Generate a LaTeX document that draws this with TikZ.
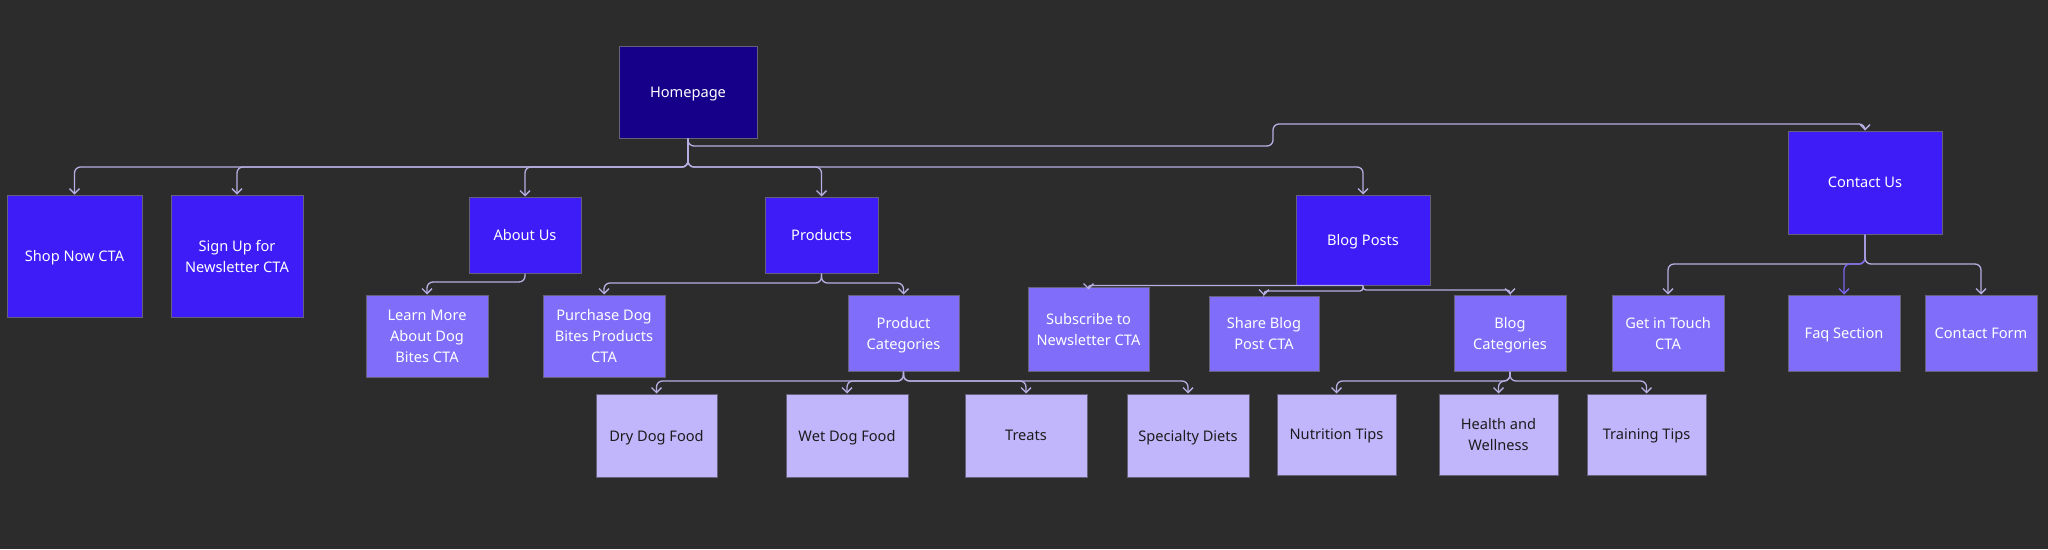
\documentclass[tikz,border=0pt]{standalone}
\usepackage{fontspec}
\setmainfont{Noto Sans}
\usetikzlibrary{arrows.meta}
\definecolor{bgc}{HTML}{2C2C2C}
\definecolor{lvzc}{HTML}{16008A}
\definecolor{lvoc}{HTML}{3D1CF7}
\definecolor{lvtc}{HTML}{806DF9}
\definecolor{lvhc}{HTML}{C1B6FC}
\definecolor{bord}{HTML}{66607A}
\definecolor{conc}{HTML}{B7AEE3}
\definecolor{conf}{HTML}{7A66F0}
\definecolor{darktext}{HTML}{1C1C1C}
\begin{document}
\begin{tikzpicture}[x=1pt,y=-1pt,
  box/.style={draw=bord, line width=1pt, inner sep=2pt, align=center,
    text depth=0pt, font=\fontsize{14.6}{21}\selectfont},
  lvzero/.style={box, fill=lvzc, text=white},
  lvone/.style={box, fill=lvoc, text=white},
  lvtwo/.style={box, fill=lvtc, text=white},
  lvthree/.style={box, fill=lvhc, text=darktext},
  conn/.style={draw=conc, line width=1.3pt, rounded corners=6pt,
    -{Straight Barb[length=5pt,width=10pt]}},
  connf/.style={conn, draw=conf},
]
\fill[bgc] (0,0) rectangle (2048,549);
\useasboundingbox (0,0) rectangle (2048,549);

% level 0
\node[lvzero, minimum width=138pt, minimum height=92pt] (home) at (688,92) {Homepage};

% level 1
\node[lvone, minimum width=135pt, minimum height=122pt] (shop) at (74.5,256) {Shop Now CTA};
\node[lvone, minimum width=132pt, minimum height=122pt] (signup) at (237,256) {Sign Up for\\Newsletter CTA};
\node[lvone, minimum width=112pt, minimum height=76pt] (about) at (525,235) {About Us};
\node[lvone, minimum width=113pt, minimum height=76pt] (products) at (821.5,235) {Products};
\node[lvone, minimum width=134pt, minimum height=90pt] (blog) at (1363,240) {Blog Posts};
\node[lvone, minimum width=154pt, minimum height=103pt] (contact) at (1865,182.5) {Contact Us};

% level 2
\node[lvtwo, minimum width=122pt, minimum height=82pt] (learn) at (427,336) {Learn More\\About Dog\\Bites CTA};
\node[lvtwo, minimum width=122pt, minimum height=82pt] (purchase) at (604,336) {Purchase Dog\\Bites Products\\CTA};
\node[lvtwo, minimum width=111pt, minimum height=76pt] (prodcat) at (903.5,333) {Product\\Categories};
\node[lvtwo, minimum width=121pt, minimum height=84pt] (sub) at (1088.5,329) {Subscribe to\\Newsletter CTA};
\node[lvtwo, minimum width=110pt, minimum height=75pt] (share) at (1264,333.5) {Share Blog\\Post CTA};
\node[lvtwo, minimum width=112pt, minimum height=76pt] (blogcat) at (1510,333) {Blog\\Categories};
\node[lvtwo, minimum width=112pt, minimum height=76pt] (touch) at (1668,333) {Get in Touch\\CTA};
\node[lvtwo, minimum width=112pt, minimum height=76pt] (faq) at (1844,333) {Faq Section};
\node[lvtwo, minimum width=112pt, minimum height=76pt] (form) at (1981,333) {Contact Form};

% level 3
\node[lvthree, minimum width=121pt, minimum height=83pt] (dry) at (656.5,435.5) {Dry Dog Food};
\node[lvthree, minimum width=122pt, minimum height=83pt] (wet) at (847,435.5) {Wet Dog Food};
\node[lvthree, minimum width=122pt, minimum height=83pt] (treats) at (1026,435.5) {Treats};
\node[lvthree, minimum width=122pt, minimum height=83pt] (special) at (1188,435.5) {Specialty Diets};
\node[lvthree, minimum width=119pt, minimum height=81pt] (nutri) at (1336.5,434.5) {Nutrition Tips};
\node[lvthree, minimum width=119pt, minimum height=81pt] (health) at (1498.5,434.5) {Health and\\Wellness};
\node[lvthree, minimum width=119pt, minimum height=81pt] (train) at (1646.5,434.5) {Training Tips};

% bus levels
\coordinate (yA) at (0,167);
\coordinate (yB) at (0,282);
\coordinate (yC) at (0,283);
\coordinate (yD) at (0,381);
\coordinate (yE) at (0,264);
\coordinate (yF) at (0,291);
\coordinate (yG) at (0,290);
\coordinate (jog) at (1273,146);
\coordinate (yH) at (0,124);

% homepage
\foreach \t in {shop,signup,about,products,blog}
  \draw[conn] (home.south) -- (home.south |- yA) -| (\t.north);
\draw[conn] (home.south) |- (jog) |- (contact.north |- yH) -- (contact.north);

% about
\draw[conn] (about.south) -- (about.south |- yB) -| (learn.north);
% products
\foreach \t in {purchase,prodcat}
  \draw[conn] (products.south) -- (products.south |- yC) -| (\t.north);
% product categories
\foreach \t in {dry,wet,treats,special}
  \draw[conn] (prodcat.south) -- (prodcat.south |- yD) -| (\t.north);
% blog posts
\draw[conn, rounded corners=2pt] (blog.south) -- (sub.north |- blog.south) -- ([yshift=-3pt]sub.north);
\draw[conn, rounded corners=3pt] (blog.south) -- (blog.south |- yF) -| (share.north);
\draw[conn, rounded corners=3pt] (blog.south) -- (blog.south |- yG) -| (blogcat.north);
% blog categories
\foreach \t in {nutri,health,train}
  \draw[conn] (blogcat.south) -- (blogcat.south |- yD) -| (\t.north);
% contact
\draw[conn] (contact.south) -- (contact.south |- yE) -| (touch.north);
\draw[connf] (contact.south) -- (contact.south |- yE) -| (faq.north);
\draw[conn] (contact.south) -- (contact.south |- yE) -| (form.north);
\end{tikzpicture}
\end{document}
